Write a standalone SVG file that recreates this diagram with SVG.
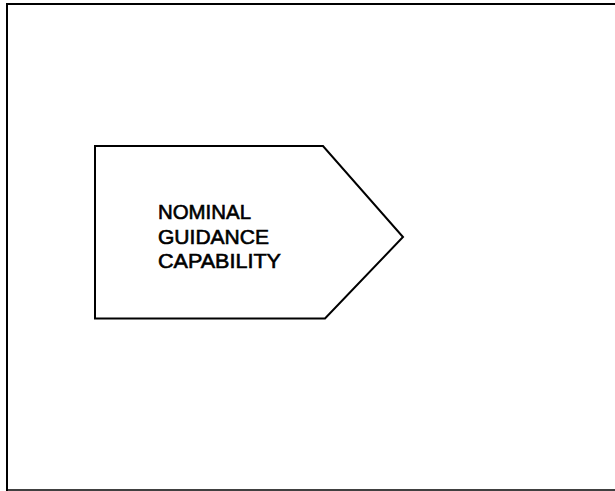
<svg xmlns="http://www.w3.org/2000/svg" width="615" height="491" viewBox="0 0 615 491">
<style>
.frame{fill:none;stroke:#000;}
.shape{fill:#fff;stroke:#000;stroke-width:2;}
.lbl{font-family:"Liberation Sans",Arial,sans-serif;font-size:20px;fill:#000;stroke:#000;stroke-width:0.6;}
</style>
<rect width="615" height="491" fill="#fff"/>
<g id="frame">
<line class="frame" x1="6" y1="4" x2="615" y2="4" stroke-width="2"/>
<line class="frame" x1="7" y1="3" x2="7" y2="491" stroke-width="2"/>
<line class="frame" x1="6" y1="490" x2="615" y2="490" stroke-width="1.5" stroke="#333"/>
</g>
<g id="connectors"></g>
<g id="node-nominal-guidance">
<polygon class="shape" points="95,146 323,146 403,237 325,318.5 95,318.5"/>
<text class="lbl" x="158" y="219" textLength="93" lengthAdjust="spacingAndGlyphs">NOMINAL</text>
<text class="lbl" x="158" y="243.5" textLength="111" lengthAdjust="spacingAndGlyphs">GUIDANCE</text>
<text class="lbl" x="158" y="267.5" textLength="123" lengthAdjust="spacingAndGlyphs">CAPABILITY</text>
</g>
</svg>
